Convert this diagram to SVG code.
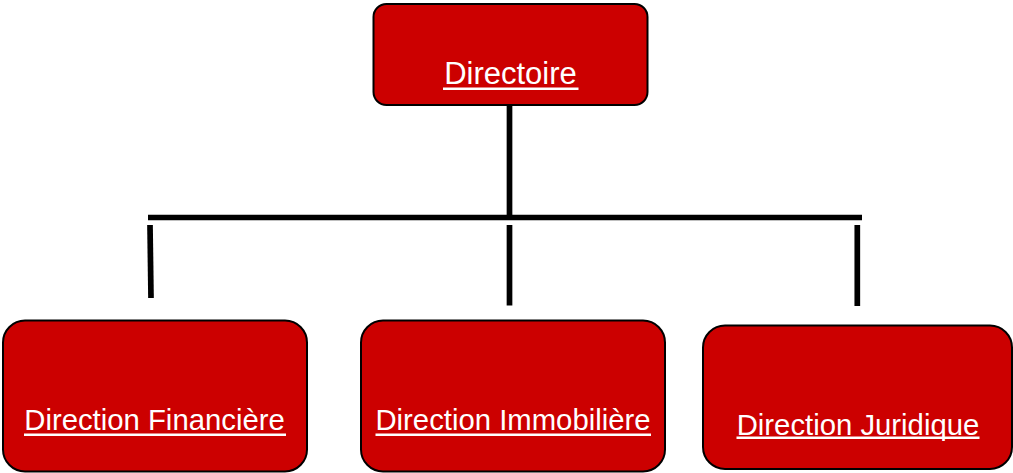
<svg xmlns="http://www.w3.org/2000/svg" width="1013" height="473" viewBox="0 0 1013 473">
<style>
.box{fill:#cc0000;stroke:#000;stroke-width:2}
.lbl{fill:#fff;font-family:"Liberation Sans",Arial,sans-serif;text-anchor:middle}
.ul{stroke:#fff;stroke-width:2.4}
.ln{stroke:#000;stroke-width:5.7;fill:none}
</style>
<rect width="1013" height="473" fill="#fff"/>
<g id="connectors">
<line class="ln" x1="509.5" y1="105" x2="509.5" y2="217.5"/>
<line class="ln" x1="148" y1="217.5" x2="862" y2="217.5"/>
<line class="ln" x1="150" y1="225" x2="151" y2="298"/>
<line class="ln" x1="509.5" y1="225" x2="509.5" y2="305.5"/>
<line class="ln" x1="857.3" y1="225" x2="857.3" y2="306"/>
</g>
<g id="directoire">
<rect class="box" x="373.5" y="4" width="274" height="101" rx="13"/>
<text class="lbl" x="510.5" y="83.5" font-size="31">Directoire</text>
<line class="ul" x1="443" y1="88.8" x2="578.5" y2="88.8"/>
</g>
<g id="direction-financiere">
<rect class="box" x="3" y="320.5" width="304" height="151" rx="22"/>
<text class="lbl" x="154.5" y="429.5" font-size="29.3">Direction Financière</text>
<line class="ul" x1="24" y1="434.8" x2="286" y2="434.8"/>
</g>
<g id="direction-immobiliere">
<rect class="box" x="361" y="320.5" width="304" height="151" rx="22"/>
<text class="lbl" x="513" y="429.5" font-size="29.3">Direction Immobilière</text>
<line class="ul" x1="375.5" y1="434.8" x2="651" y2="434.8"/>
</g>
<g id="direction-juridique">
<rect class="box" x="703" y="325.5" width="309" height="143.5" rx="22"/>
<text class="lbl" x="858" y="434.5" font-size="29.3">Direction Juridique</text>
<line class="ul" x1="736.5" y1="437.8" x2="979.5" y2="437.8"/>
</g>
</svg>
